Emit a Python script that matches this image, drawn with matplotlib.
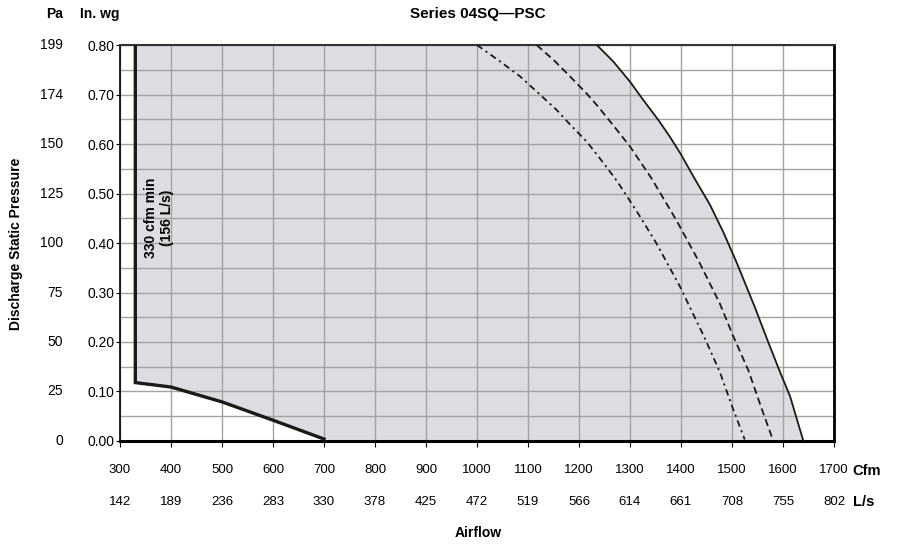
import matplotlib
matplotlib.use("Agg")
import matplotlib.pyplot as plt
from matplotlib import font_manager
import numpy as np

# --- data ---
cfm_ticks = [300, 400, 500, 600, 700, 800, 900, 1000, 1100, 1200, 1300, 1400, 1500, 1600, 1700]
ls_labels = ['142', '189', '236', '283', '330', '378', '425', '472', '519', '566',
             '614', '661', '708', '755', '802']
inwg_ticks = [0.0, 0.1, 0.2, 0.3, 0.4, 0.5, 0.6, 0.7, 0.8]
pa_labels = ['0', '25', '50', '75', '100', '125', '150', '174', '199']

# minimum airflow boundary (vertical at 330 cfm then bottom curve)
min_cfm = [330, 330, 400, 500, 600, 700]
min_wg = [0.80, 0.118, 0.109, 0.079, 0.042, 0.004]

# max (solid) curve
solid_cfm = [1235, 1267, 1300, 1326, 1356, 1378, 1400, 1424, 1457, 1483, 1509,
             1545, 1571, 1594, 1614, 1640]
solid_wg = [0.80, 0.767, 0.726, 0.689, 0.648, 0.615, 0.579, 0.535, 0.477, 0.422, 0.361,
            0.270, 0.200, 0.140, 0.090, 0.0]

# medium (dashed) curve
dash_cfm = [1117, 1150, 1182, 1215, 1238, 1267, 1300, 1342, 1391, 1437, 1476,
            1502, 1532, 1558, 1581]
dash_wg = [0.80, 0.770, 0.737, 0.702, 0.675, 0.638, 0.595, 0.531, 0.446, 0.359, 0.278,
           0.213, 0.143, 0.066, 0.0]

# low (dash-dot) curve
dashdot_cfm = [1000, 1045, 1084, 1117, 1156, 1182, 1215, 1238, 1274, 1300, 1320, 1352,
               1398, 1447, 1476, 1502, 1525]
dashdot_wg = [0.80, 0.767, 0.737, 0.706, 0.669, 0.640, 0.605, 0.575, 0.526, 0.485, 0.453, 0.399,
              0.312, 0.207, 0.140, 0.065, 0.003]

names = {f.name for f in font_manager.fontManager.ttflist}
narrow = 'Liberation Sans Narrow' if 'Liberation Sans Narrow' in names else 'Liberation Sans'
plt.rcParams['font.family'] = ['Liberation Sans', 'DejaVu Sans']

fig = plt.figure(figsize=(9.21, 5.47), dpi=100)
ax = fig.add_axes([0.1303, 0.1938, 0.7752, 0.7239])
ax.set_xlim(300, 1700)
ax.set_ylim(0, 0.8)

# shaded operating region
poly_x = [min_cfm[0]] + solid_cfm + [min_cfm[-1]] + min_cfm[::-1][:-1]
poly_y = [0.8] + solid_wg + [0.0] + min_wg[::-1][:-1]
ax.fill(poly_x, poly_y, color='#dcdde0', zorder=0, lw=0)

# grid
ax.set_xticks(cfm_ticks)
ax.set_yticks(np.arange(0, 0.801, 0.05), minor=True)
ax.set_yticks(inwg_ticks)
ax.grid(True, which='both', color='#a3a3a3', lw=1.0, zorder=1)
ax.set_axisbelow(True)

ax.plot(min_cfm, min_wg, color='#1a1a1a', lw=2.4, zorder=4, solid_joinstyle='miter')
ax.plot(solid_cfm, solid_wg, color='#1a1a1a', lw=1.3, zorder=4)
ax.plot(dash_cfm, dash_wg, color='#1a1a1a', lw=1.3, dashes=(4.0, 2.3), zorder=4)
ax.plot(dashdot_cfm, dashdot_wg, color='#1a1a1a', lw=1.3, dashes=(3.6, 2.2, 1.2, 2.2), zorder=4)

ax.text(376, 0.45, '330 cfm min\n(156 L/s)', rotation=90, ha='center', va='center',
        fontsize=10, fontweight='bold', multialignment='center', zorder=5)

# spines
ax.spines['top'].set_color('#333333')
ax.spines['top'].set_linewidth(1.5)
ax.spines['left'].set_linewidth(1.2)
ax.spines['right'].set_linewidth(2.0)
ax.spines['bottom'].set_linewidth(2.2)

ax.tick_params(axis='y', which='major', length=3, width=0.8, pad=1, labelsize=10)
ax.tick_params(axis='y', which='minor', length=0)
ax.tick_params(axis='x', length=4, width=0.8, labelsize=9.5, pad=12.5)
ax.set_yticklabels(['%.2f' % v for v in inwg_ticks])
ax.set_xticklabels([str(v) for v in cfm_ticks], fontfamily=narrow)
for lab in ax.get_yticklabels():
    lab.set_fontfamily(narrow)

# Pa labels
for v, lab in zip(inwg_ticks, pa_labels):
    ax.text(-0.08, v, lab, transform=ax.get_yaxis_transform(), ha='right', va='center',
            fontsize=10, fontfamily=narrow)
# L/s labels
for v, lab in zip(cfm_ticks, ls_labels):
    ax.text(v, -0.155, lab, transform=ax.get_xaxis_transform(), ha='center', va='center',
            fontsize=9.5, fontfamily=narrow)

ax.text(1.026, -0.077, 'Cfm', transform=ax.transAxes, ha='left', va='center',
        fontsize=10.5, fontweight='bold', fontfamily=narrow)
ax.text(1.026, -0.155, 'L/s', transform=ax.transAxes, ha='left', va='center',
        fontsize=10.5, fontweight='bold', fontfamily=narrow)

fig.text(0.068, 0.975, 'Pa', ha='right', va='center', fontsize=10, fontweight='bold')
fig.text(0.087, 0.975, 'In. wg', ha='left', va='center', fontsize=10, fontweight='bold')
fig.text(0.519, 0.975, 'Series 04SQ\u2014PSC', ha='center', va='center', fontsize=11, fontweight='bold')
fig.text(0.017, 0.555, 'Discharge Static Pressure', rotation=90, ha='center', va='center',
         fontsize=10, fontweight='bold')
fig.text(0.519, 0.013, 'Airflow', ha='center', va='bottom', fontsize=10,
         fontweight='bold', fontfamily=narrow)

fig.savefig('out.png', dpi=100)
